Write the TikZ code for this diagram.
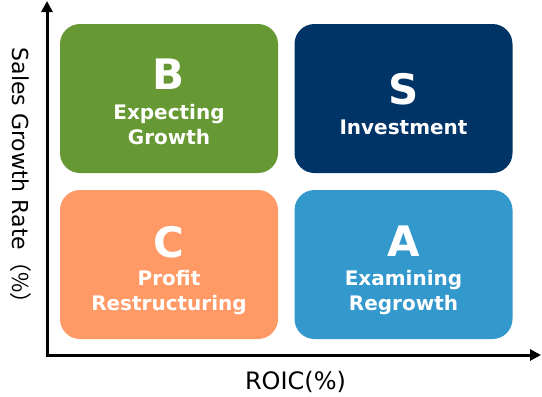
\documentclass[tikz,border=0pt]{standalone}
\usepackage{fontspec}
\setmainfont{DejaVu Sans}
\newfontfamily\axisfont{DejaVu Sans}
\newfontfamily\cjkfont{Noto Sans CJK JP}
\usetikzlibrary{arrows.meta}
\definecolor{cB}{HTML}{669933}
\definecolor{cS}{HTML}{003366}
\definecolor{cC}{HTML}{FF9966}
\definecolor{cA}{HTML}{3399CC}
\tikzset{
  quad/.style={rounded corners=20pt, minimum width=218pt, minimum height=149pt, inner sep=0pt, draw=none},
  big/.style={text=white, font=\fontsize{42}{42}\selectfont\bfseries, inner sep=0pt},
  lbl/.style={text=white, font=\fontsize{20}{25}\selectfont\bfseries, align=center, inner sep=0pt},
  axis/.style={line width=3pt, -{Triangle[length=11pt,width=11pt]}},
  axlbl/.style={font=\axisfont\fontsize{22}{22}\selectfont, inner sep=0pt}
}
\begin{document}
\begin{tikzpicture}[x=1pt,y=-1pt]
\useasboundingbox (0,0) rectangle (542,397);
\node[quad, fill=cB] (qb) at (169,98.5) {};
\node[quad, fill=cS] (qs) at (403.5,98.5) {};
\node[quad, fill=cC] (qc) at (169,264.5) {};
\node[quad, fill=cA] (qa) at (403.5,264.5) {};
\node[big] (lb) at (169,74) {B};
\node[lbl] (tb) at (169,125) {Expecting\\Growth};
\node[big] (ls) at (403.5,89) {S};
\node[lbl] (ts) at (403.5,127) {Investment};
\node[big] (lc) at (169,242) {C};
\node[lbl] (tc) at (169,293) {Profit\\Restructuring};
\node[big] (la) at (403.5,241.5) {A};
\node[lbl] (ta) at (403.5,293) {Examining\\Regrowth};
\coordinate (o) at (47,355);
\coordinate (ytop) at (47,1);
\coordinate (xend) at (541,355);
\draw[axis] ([yshift=1.5pt]o) -- (ytop);
\draw[axis] ([xshift=-1.5pt]o) -- (xend);
\node[axlbl, rotate=-90] (ylab) at (21,181) {Sales Growth Rate{\cjkfont （\%）}};
\node[axlbl, font=\axisfont\fontsize{24}{24}\selectfont] (xlab) at (295.5,382) {ROIC(\%)};
\end{tikzpicture}
\end{document}
